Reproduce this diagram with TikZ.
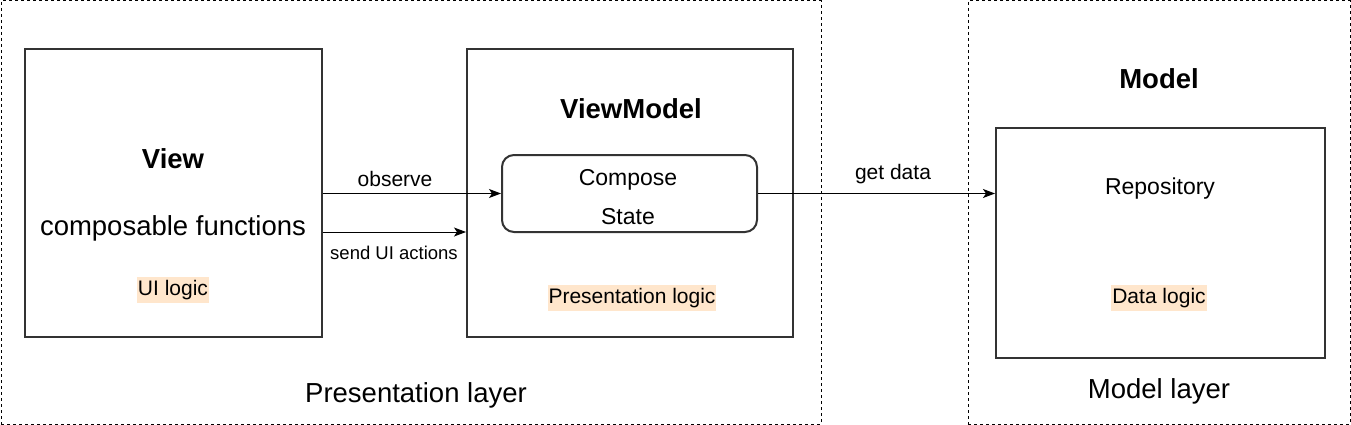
\documentclass[tikz,border=0pt]{standalone}
\usepackage{fontspec}
\setmainfont{Liberation Sans}
\usetikzlibrary{arrows.meta}
\definecolor{hl}{HTML}{FFE6CC}
\definecolor{boxline}{HTML}{333333}
\begin{document}
\begin{tikzpicture}[x=1pt,y=-1pt,
  layer/.style={draw=black,line width=1pt,dash pattern=on 3pt off 3pt,inner sep=0pt},
  solidbox/.style={draw=boxline,line width=2pt,inner sep=0pt},
  lbl/.style={inner sep=0pt,text depth=0pt},
  conn/.style={draw=black,line width=1pt,-{Stealth[length=12pt,width=9pt,inset=3pt]}},
  big/.style={font=\fontsize{27.5}{33}\selectfont},
  bigb/.style={font=\fontsize{27.5}{33}\selectfont\bfseries},
  mid/.style={font=\fontsize{23}{39}\selectfont},
  small/.style={font=\fontsize{21}{25}\selectfont},
  tiny/.style={font=\fontsize{18.5}{22}\selectfont},
  mark hl/.style={fill=hl,inner xsep=1pt,inner ysep=3pt}]
\useasboundingbox (0,0) rectangle (1351,425);
% layers
\node[layer,minimum width=820pt,minimum height=423pt] (pres) at (411,212.5) {};
\node[layer,minimum width=382pt,minimum height=423pt] (mlay) at (1159,212.5) {};
% boxes
\node[solidbox,minimum width=297pt,minimum height=288pt] (view) at (173.5,193) {};
\node[solidbox,minimum width=326pt,minimum height=288pt] (vm) at (630,193) {};
\node[solidbox,rounded corners=12pt,minimum width=255pt,minimum height=77pt] (cs) at (629.5,193.5) {};
\node[solidbox,minimum width=329pt,minimum height=230pt] (repo) at (1160.5,243) {};
% texts
\node[bigb] (viewt) at (173,159) {View};
\node[big] (compf) at (173,228) {composable functions};
\node[small,mark hl] (uil) at (173,290) {UI logic};
\node[bigb] (vmt) at (631,109) {ViewModel};
\node[mid,align=center] (cst) at (628,197) {Compose\\State};
\node[small,mark hl] (pl) at (632,298) {Presentation logic};
\node[bigb] (modt) at (1159,79) {Model};
\node[mid] (repot) at (1160,189) {Repository};
\node[small,mark hl] (dl) at (1159,298) {Data logic};
\node[big] (presl) at (416,395) {Presentation layer};
\node[big] (modl) at (1159,391) {Model layer};
% connectors
\draw[conn] (cs.west -| view.east) -- (cs.west);
\node[small] (obs) at (395,179) {observe};
\draw[conn] ([yshift=-39pt]view.east) -- ([yshift=-39pt]vm.west);
\node[tiny] (sua) at (394,253) {send UI actions};
\draw[conn] (cs.east) -- (cs.east -| repo.west);
\node[small] (gd) at (893,174) {get data};
\end{tikzpicture}
\end{document}
